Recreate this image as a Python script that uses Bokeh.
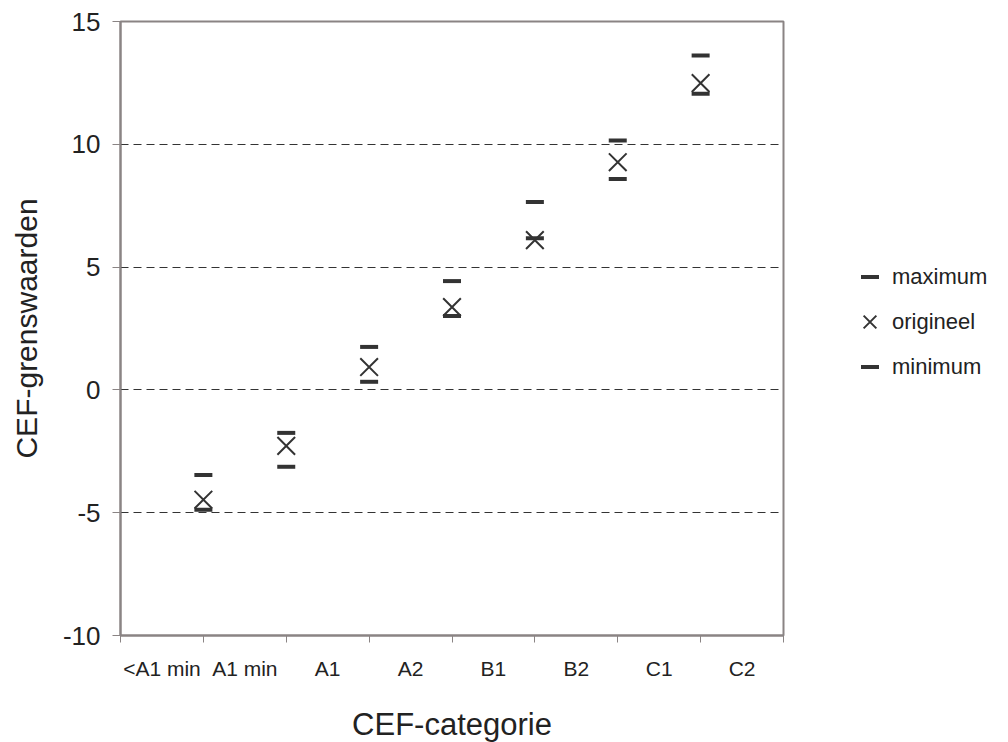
from bokeh.plotting import figure
from bokeh.models import (FixedTicker, Legend, LegendItem, Range1d, ColumnDataSource)
from bokeh.embed import file_html
from bokeh.resources import INLINE

# ---- data ----
categories = ["<A1 min", "A1 min", "A1", "A2", "B1", "B2", "C1", "C2"]
boundary_index = [1, 2, 3, 4, 5, 6, 7]          # boundaries between categories
origineel = [-4.47, -2.28, 0.93, 3.37, 6.10, 9.27, 12.49]
maximum = [-3.46, -1.75, 1.75, 4.43, 7.65, 10.15, 13.62]
minimum = [-4.88, -3.13, 0.33, 3.01, 6.17, 8.59, 12.06]
y_ticks = [-10, -5, 0, 5, 10, 15]
y_tick_labels = ["-10", "-5", "0", "5", "10", "15"]

FONT = "Liberation Sans"
AXC = "#8a8484"
MC = "#333333"

p = figure(frame_width=663, frame_height=614, output_backend="svg",
           toolbar_location=None,
           x_range=Range1d(0, len(categories)), y_range=Range1d(-10, 15),
           min_border_left=120, min_border_right=225, min_border_top=21,
           min_border_bottom=107)

p.background_fill_color = "white"
p.border_fill_color = "white"
p.outline_line_color = AXC
p.outline_line_width = 2

src = ColumnDataSource(dict(x=boundary_index, orig=origineel, mx=maximum, mn=minimum))
r_max = p.scatter("x", "mx", source=src, marker="dash", size=18, line_width=4, line_color=MC)
r_min = p.scatter("x", "mn", source=src, marker="dash", size=18, line_width=4, line_color=MC)
r_org = p.scatter("x", "orig", source=src, marker="x", size=25, line_width=2, line_color=MC)

# x axis: labels at category centers, ticks at boundaries (minor ticks)
centers = [i + 0.5 for i in range(len(categories))]
xa = p.xaxis[0]
xa.ticker = FixedTicker(ticks=centers, minor_ticks=list(range(len(categories) + 1)))
xa.major_label_overrides = {c: lab for c, lab in zip(centers, categories)}
xa.major_tick_out = 0
xa.major_tick_in = 0
xa.minor_tick_out = 7
xa.minor_tick_in = 0
xa.minor_tick_line_color = AXC
xa.minor_tick_line_width = 1
xa.axis_line_color = AXC
xa.axis_line_width = 2
xa.major_label_text_font = FONT
xa.major_label_text_font_size = "21px"
xa.major_label_text_color = "#222222"
xa.major_label_standoff = 14
xa.axis_label = "CEF-categorie"
xa.axis_label_text_font = FONT
xa.axis_label_text_font_size = "31px"
xa.axis_label_text_font_style = "normal"
xa.axis_label_text_color = "#222222"
xa.axis_label_standoff = 24

ya = p.yaxis[0]
ya.ticker = FixedTicker(ticks=y_ticks, minor_ticks=[])
ya.major_label_overrides = {t: s for t, s in zip(y_ticks, y_tick_labels)}
ya.major_tick_out = 8
ya.major_tick_in = 0
ya.major_tick_line_color = AXC
ya.major_tick_line_width = 1
ya.axis_line_color = AXC
ya.axis_line_width = 2
ya.major_label_text_font = FONT
ya.major_label_text_font_size = "26px"
ya.major_label_text_color = "#222222"
ya.major_label_standoff = 12
ya.axis_label = "CEF-grenswaarden"
ya.axis_label_text_font = FONT
ya.axis_label_text_font_size = "30px"
ya.axis_label_text_font_style = "normal"
ya.axis_label_text_color = "#222222"
ya.axis_label_standoff = 17

p.xgrid.visible = False
p.ygrid.ticker = FixedTicker(ticks=[-5, 0, 5, 10])
p.ygrid.grid_line_color = "#333333"
p.ygrid.grid_line_width = 1
p.ygrid.grid_line_dash = "8 5"

legend = Legend(items=[LegendItem(label="maximum", renderers=[r_max]),
                       LegendItem(label="origineel", renderers=[r_org]),
                       LegendItem(label="minimum", renderers=[r_min])],
                location=(64, 246), orientation="vertical")
legend.background_fill_alpha = 0
legend.border_line_alpha = 0
legend.padding = 0
legend.margin = 0
legend.spacing = 0
legend.glyph_width = 45
legend.glyph_height = 45
legend.label_height = 25
legend.label_standoff = 0
legend.label_text_font = FONT
legend.label_text_font_size = "22px"
legend.label_text_color = "#222222"
p.add_layout(legend, "right")

open("out.html", "w").write(file_html(p, INLINE))
